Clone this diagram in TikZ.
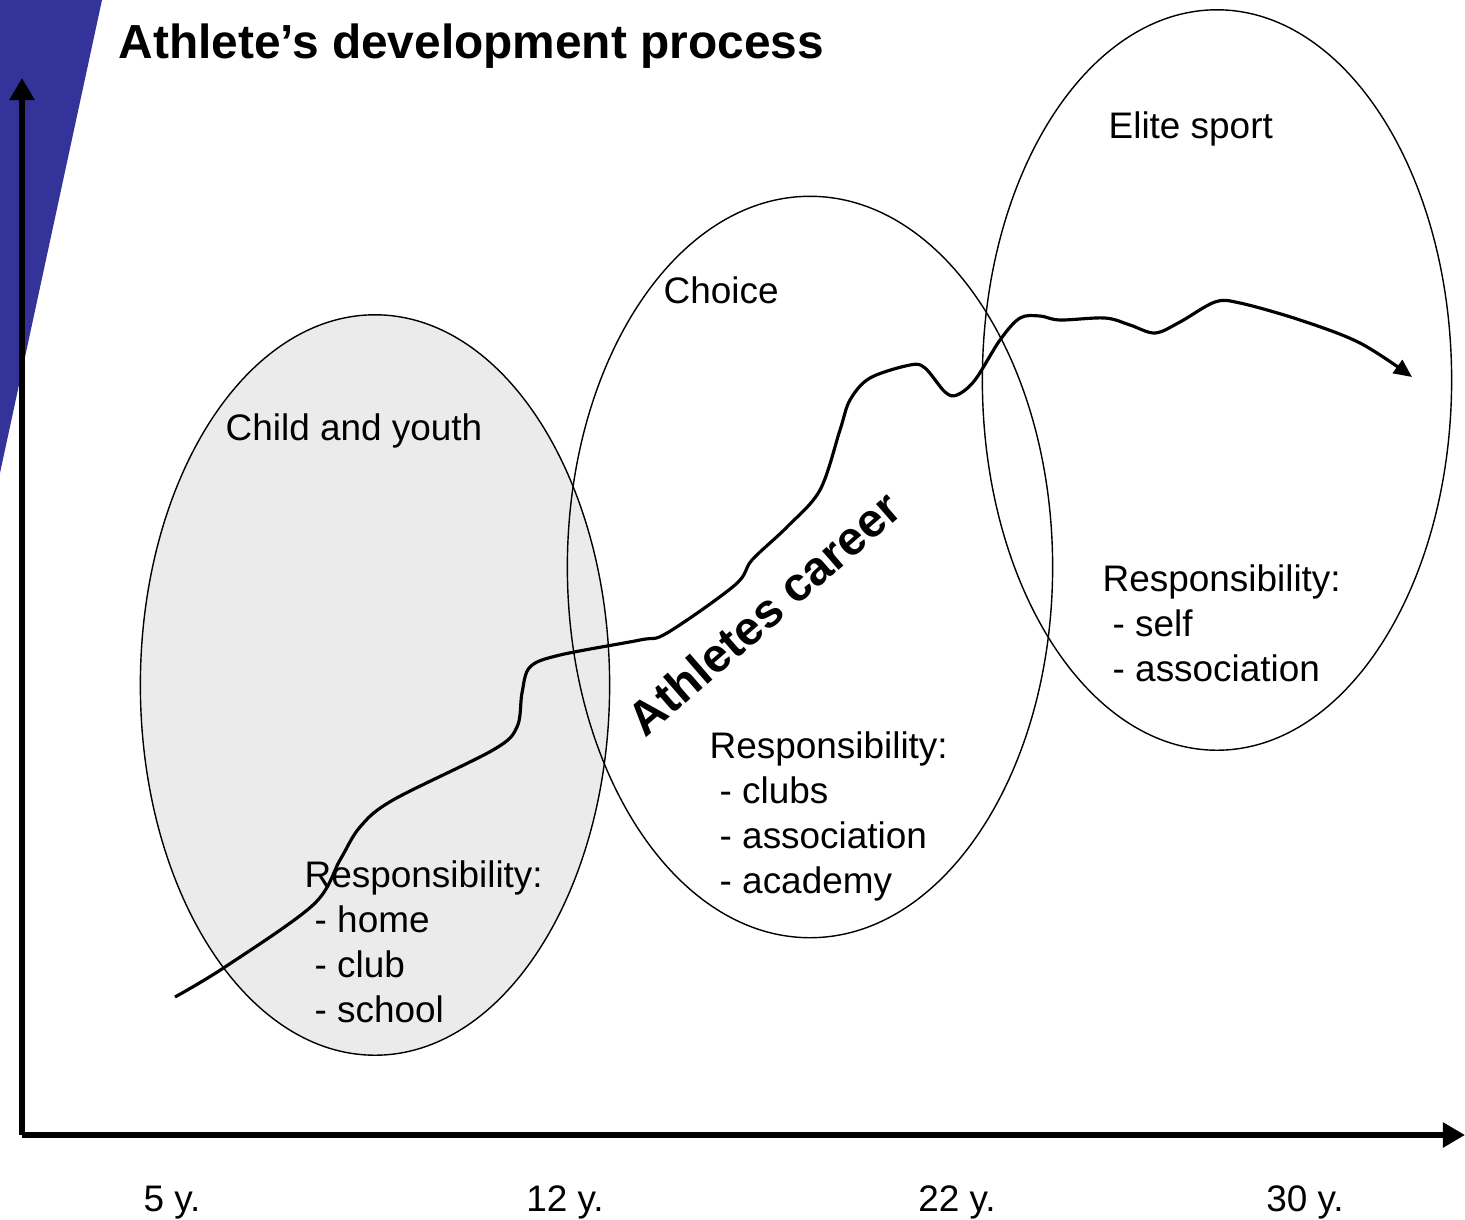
\documentclass[tikz,border=0pt]{standalone}
\usepackage{fontspec}
\setmainfont{Liberation Sans}
\usetikzlibrary{positioning,shapes.geometric,arrows.meta}
\definecolor{slideblue}{RGB}{51,51,153}
\definecolor{youthgray}{RGB}{235,235,235}
\tikzset{
  phase/.style={draw, ellipse, line width=0.4pt, inner sep=0pt},
  phasetext/.style={font=\fontsize{10.5}{12.8}\selectfont, anchor=base west, inner sep=0pt},
  resptext/.style={font=\fontsize{10.5}{12.8}\selectfont, align=left, anchor=north west, inner sep=0pt},
  agetext/.style={font=\fontsize{10.5}{12.8}\selectfont, anchor=base, inner sep=0pt},
  axisline/.style={line width=1.5pt, -{Triangle[length=0.22cm,width=0.24cm]}},
  career/.style={line width=0.9pt, -{Triangle[length=0.18cm,width=0.16cm]}}
}
\begin{document}
\begin{tikzpicture}[x=0.01cm, y=-0.01cm]
\useasboundingbox (0,0) rectangle (1465,1220);
\fill[slideblue] (0,0) -- (102,0) -- (0,473) -- cycle;
\node[anchor=base west, inner sep=0pt, font=\bfseries\fontsize{13.6}{16}\selectfont] (title) at (118,58) {Athlete’s development process};

\node[phase, fill=youthgray, minimum width=4.69cm, minimum height=7.4cm] (youth) at (375,685) {};
\node[phase, minimum width=4.85cm, minimum height=7.41cm] (choice) at (810,567) {};
\node[phase, minimum width=4.69cm, minimum height=7.4cm] (elite) at (1217,380) {};

\node[phasetext] (youthname) at (225,440) {Child and youth};
\node[phasetext] (choicename) at (663,303) {Choice};
\node[phasetext] (elitename) at (1108,138) {Elite sport};

\node[resptext] (youthresp) at (304,860) {Responsibility:\\\hspace*{0.1cm}- home\\\hspace*{0.1cm}- club\\\hspace*{0.1cm}- school};
\node[resptext] (choiceresp) at (709,731) {Responsibility:\\\hspace*{0.1cm}- clubs\\\hspace*{0.1cm}- association\\\hspace*{0.1cm}- academy};
\node[resptext] (eliteresp) at (1102,564) {Responsibility:\\\hspace*{0.1cm}- self\\\hspace*{0.1cm}- association};

\draw[career] plot[smooth, tension=0.55] coordinates {
  (175,997) (225,967) (313,905) (340,860) (360,827) (393,800) (493,750)
  (517,727) (522,693) (530,667) (560,655) (640,640) (667,633) (735,585)
  (752,560) (787,527) (820,490) (840,430) (850,400) (870,378) (910,365)
  (925,368) (945,392) (957,395) (975,380) (1000,340) (1020,318) (1040,316)
  (1060,320) (1105,318) (1130,325) (1155,333) (1180,322) (1215,302)
  (1240,303) (1300,320) (1360,343) (1412,377)};
\node[font=\bfseries\fontsize{13.5}{16}\selectfont, rotate=41] (careername) at (764,613) {Athletes career};

\coordinate (origin) at (22,1135);
\coordinate (ytop) at (22,78);
\coordinate (xend) at (1465,1135);
\draw[axisline] (origin) -- (ytop);
\draw[axisline] (origin) -- (xend);

\node[agetext] (age5) at (172,1211) {5 y.};
\node[agetext] (age12) at (565,1211) {12 y.};
\node[agetext] (age22) at (957,1211) {22 y.};
\node[agetext] (age30) at (1305,1211) {30 y.};
\end{tikzpicture}
\end{document}
